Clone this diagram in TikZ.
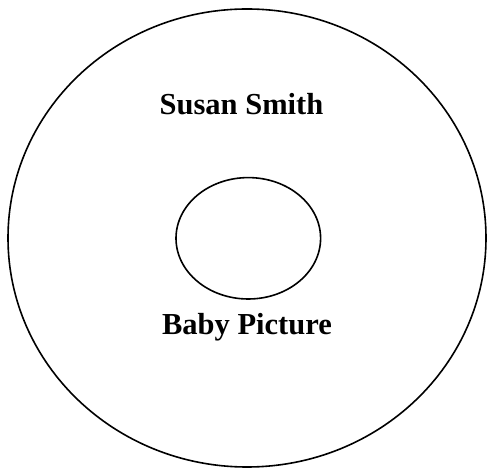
\documentclass[tikz,border=0pt]{standalone}
\usepackage{fontspec}
\setmainfont{Liberation Serif}
\usepackage{tikz}
\usetikzlibrary{positioning,calc}

\begin{document}
\begin{tikzpicture}[x=1pt,y=1pt,
  label/.style={font=\fontsize{30.5}{36}\selectfont\bfseries, inner sep=0pt, anchor=base}]

\useasboundingbox (0,0) rectangle (488,468);

\draw[line width=1.6pt] (247,230)   ellipse (239 and 229);
\draw[line width=1.6pt] (248.3,229.7) ellipse (72.3 and 60.7);

\node[label] (name)  at (241.5,353) {Susan Smith};
\node[label] (photo) at (247,133)   {Baby Picture};

\end{tikzpicture}
\end{document}
